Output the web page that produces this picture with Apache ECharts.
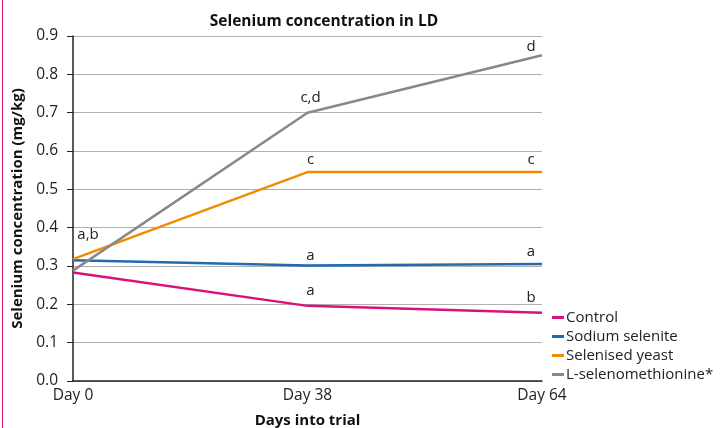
<!DOCTYPE html>
<html>
<head>
<meta charset="utf-8">
<script src="https://cdn.jsdelivr.net/npm/echarts@6/dist/echarts.min.js"></script>
<style>
  html, body { margin: 0; padding: 0; background: #fff; }
  #chart { height: 428px; box-sizing: border-box; border-left: 1px solid #d81b7a; margin-left: 2px; width: 719px; }
</style>
</head>
<body>
<div id="chart"></div>
<script>
  // data
  const days = ['Day 0', 'Day 38', 'Day 64'];
  const yTicks = [0, 0.1, 0.2, 0.3, 0.4, 0.5, 0.6, 0.7, 0.8, 0.9];

  const control = [0.283, 0.196, 0.178];
  const sodiumSelenite = [0.315, 0.301, 0.305];
  const selenisedYeast = [0.318, 0.545, 0.545];
  const lSeleno = [0.288, 0.700, 0.850];

  // significance letters per point
  const controlNotes = ['', 'a', 'b'];
  const sodiumNotes = ['', 'a', 'a'];
  const yeastNotes = ['a,b', 'c', 'c'];
  const lSelenoNotes = ['', 'c,d', 'd'];

  const font = '"Open Sans", "Noto Sans", sans-serif';

  function withNotes(values, notes, offsets) {
    return values.map(function (v, i) {
      return {
        value: v,
        label: {
          show: notes[i] !== '',
          formatter: notes[i],
          position: 'top',
          distance: offsets[i][2],
          offset: [offsets[i][0], offsets[i][1]],
          color: '#222',
          fontSize: 15,
          fontFamily: font
        }
      };
    });
  }

  function makeSeries(name, color, values, notes, offsets) {
    return {
      name: name,
      type: 'line',
      data: withNotes(values, notes, offsets),
      symbol: 'circle',
      symbolSize: 0,
      showSymbol: true,
      lineStyle: { color: color, width: 2.5 },
      itemStyle: { color: color },
      emphasis: { disabled: true },
      animation: false
    };
  }

  const chart = echarts.init(document.getElementById('chart'));
  chart.setOption({
    textStyle: { fontFamily: font },
    color: ['#d6127b', '#1e6bb0', '#ef8c00', '#888888'],
    title: {
      text: 'Selenium concentration in LD',
      left: 316,
      top: 9,
      textAlign: 'center',
      textStyle: { fontSize: 15.5, fontWeight: 'bold', color: '#111', fontFamily: font }
    },
    grid: { left: 70, right: 179, top: 36, bottom: 47, outerBoundsMode: 'none' },
    legend: {
      orient: 'vertical',
      left: 544,
      top: 305,
      icon: 'rect',
      itemWidth: 12,
      itemHeight: 3,
      itemGap: 4,
      textStyle: { fontSize: 15, color: '#222', padding: [0, 0, 0, -3], fontFamily: font },
      data: ['Control', 'Sodium selenite', 'Selenised yeast', 'L-selenomethionine*']
    },
    xAxis: {
      type: 'category',
      data: days,
      boundaryGap: false,
      name: 'Days into trial',
      nameLocation: 'middle',
      nameGap: 32,
      nameTextStyle: { fontSize: 15, fontWeight: 'bold', color: '#111', fontFamily: font },
      axisLine: { lineStyle: { color: '#222', width: 1.5 } },
      axisTick: { show: false },
      axisLabel: { color: '#222', fontSize: 15.5, margin: 7, fontFamily: font },
      splitLine: { show: false }
    },
    yAxis: {
      type: 'value',
      min: 0,
      max: 0.9,
      interval: 0.1,
      name: 'Selenium concentration (mg/kg)',
      nameLocation: 'middle',
      nameGap: 47,
      nameTextStyle: { fontSize: 15, fontWeight: 'bold', color: '#111', fontFamily: font },
      axisLine: { show: true, lineStyle: { color: '#222', width: 1.5 } },
      axisTick: { show: true, length: 6, lineStyle: { color: '#222' } },
      axisLabel: {
        color: '#222',
        fontSize: 15.5,
        margin: 15,
        fontFamily: font,
        formatter: function (v) {
          const t = yTicks.find(function (k) { return Math.abs(k - v) < 1e-6; });
          return t === undefined ? '' : t.toFixed(1);
        }
      },
      splitLine: { lineStyle: { color: '#b0b0b0', width: 1.2 } }
    },
    series: [
      makeSeries('Control', '#d6127b', control, controlNotes, [[0, 0, 5], [3, 0, 8], [-11, 0, 8]]),
      makeSeries('Sodium selenite', '#1e6bb0', sodiumSelenite, sodiumNotes, [[0, 0, 5], [3, 0, 2], [-11, 0, 5]]),
      makeSeries('Selenised yeast', '#ef8c00', selenisedYeast, yeastNotes, [[15, -12, 5], [3, 0, 5], [-11, 0, 5]]),
      makeSeries('L-selenomethionine*', '#888888', lSeleno, lSelenoNotes, [[0, 0, 5], [3, 0, 7], [-11, 0, 1]])
    ]
  });
</script>
</body>
</html>
